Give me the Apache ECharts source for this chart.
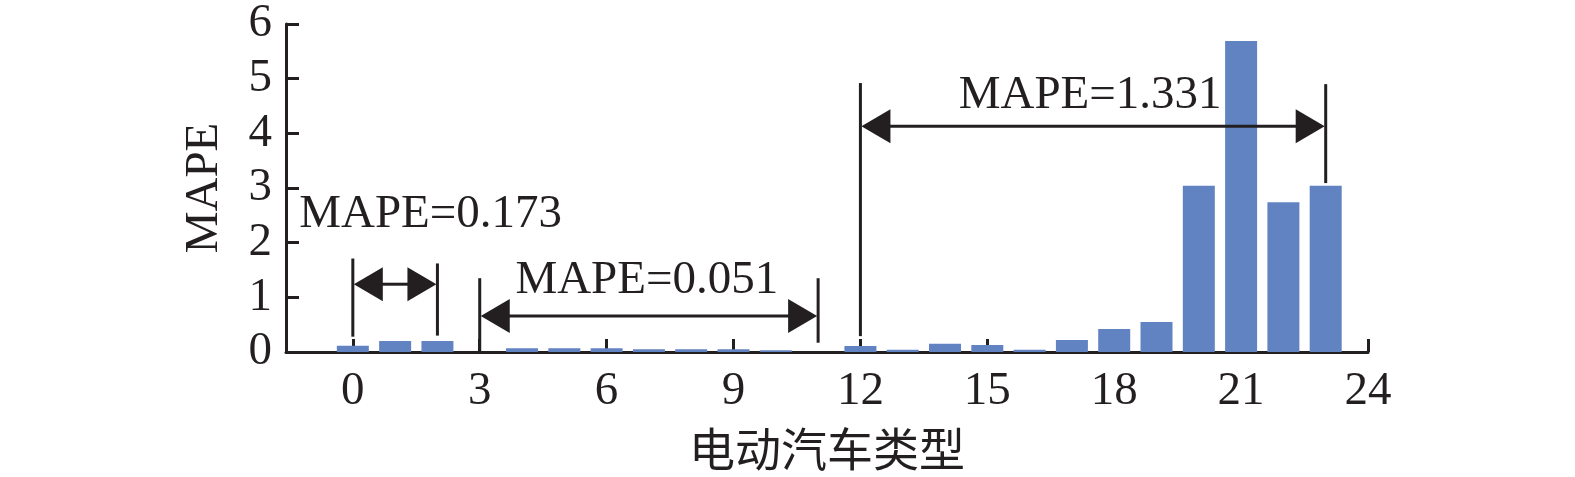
<!DOCTYPE html>
<html>
<head>
<meta charset="utf-8">
<script src="https://cdn.jsdelivr.net/npm/echarts@6/dist/echarts.min.js"></script>
<style>
html,body{margin:0;padding:0;background:#fff;}
#chart{width:1575px;height:477px;}
</style>
</head>
<body>
<div id="chart"></div>
<script>
// ---- data ----
const vehicleTypes = [0,1,2,3,4,5,6,7,8,9,10,11,12,13,14,15,16,17,18,19,20,21,22,23];
const mapeValues   = [0.115,0.20,0.20,0,0.07,0.07,0.07,0.05,0.05,0.05,0.03,0,0.11,0.04,0.15,0.13,0.04,0.22,0.42,0.55,3.04,5.69,2.74,3.04];
const xTickValues  = [0,3,6,9,12,15,18,21,24];
const yTickValues  = [0,1,2,3,4,5,6];

// bracket annotations (data units)
const bracketFrom       = [0, 3, 12];
const bracketTo         = [2, 11, 23];
const bracketArrowLevel = [1.24, 0.66, 4.13];
const leftLineTop       = [1.71, 1.35, 4.92];
const leftLineBottom    = [0.28, 0, 0.29];
const rightLineTop      = [1.62, 1.35, 4.90];
const rightLineBottom   = [0.30, 0.17, 3.09];
const bracketLabels     = ['MAPE=0.173', 'MAPE=0.051', 'MAPE=1.331'];
const labelX            = [1.84, 6.95, 17.43];
const labelY            = [2.51, 1.30, 4.69];

// ---- chart ----
const INK = '#231f20';
const SERIF = '"Liberation Serif", "Times New Roman", serif';
const chart = echarts.init(document.getElementById('chart'), null, {renderer:'canvas'});

function renderBracket(params, api) {
  const i = params.dataIndex;
  const a = api.coord([bracketFrom[i], bracketArrowLevel[i]]);
  const b = api.coord([bracketTo[i], bracketArrowLevel[i]]);
  const lt = api.coord([bracketFrom[i], leftLineTop[i]]);
  const lb = api.coord([bracketFrom[i], leftLineBottom[i]]);
  const rt = api.coord([bracketTo[i], rightLineTop[i]]);
  const rb = api.coord([bracketTo[i], rightLineBottom[i]]);
  const lp = api.coord([labelX[i], labelY[i]]);
  const L = 30, H = 17;
  const lineStyle = {stroke: INK, lineWidth: 3};
  return {
    type: 'group',
    children: [
      {type:'line', shape:{x1:lt[0], y1:lt[1], x2:lb[0], y2:lb[1]}, style:lineStyle},
      {type:'line', shape:{x1:rt[0], y1:rt[1], x2:rb[0], y2:rb[1]}, style:lineStyle},
      {type:'line', shape:{x1:a[0]+L-2, y1:a[1], x2:b[0]-L+2, y2:b[1]}, style:lineStyle},
      {type:'polygon', shape:{points:[[a[0]+1, a[1]], [a[0]+L, a[1]-H], [a[0]+L, a[1]+H]]}, style:{fill:INK}},
      {type:'polygon', shape:{points:[[b[0]-1, b[1]], [b[0]-L, b[1]-H], [b[0]-L, b[1]+H]]}, style:{fill:INK}},
      {type:'text', x: lp[0], y: lp[1], style:{text: bracketLabels[i], fill: INK, font: '47px ' + SERIF, align:'center', verticalAlign:'middle'}}
    ]
  };
}

const option = {
  backgroundColor: '#ffffff',
  animation: false,
  grid: {left: 286, right: 207, top: 24, bottom: 125, containLabel: false},
  xAxis: {
    type: 'value',
    min: -1.58,
    max: 24,
    name: '电动汽车类型',
    nameLocation: 'middle',
    nameGap: 74,
    nameTextStyle: {color: INK, fontSize: 46, fontFamily: '"Noto Sans CJK SC", sans-serif'},
    axisLine: {show: true, onZero: false, lineStyle: {color: INK, width: 3}},
    axisTick: {show: true, inside: true, length: 13, lineStyle: {color: INK, width: 3}, customValues: xTickValues},
    axisLabel: {color: INK, fontSize: 47, fontFamily: SERIF, margin: 16, customValues: xTickValues},
    splitLine: {show: false}
  },
  yAxis: {
    type: 'value',
    min: 0,
    max: 6,
    interval: 1,
    name: 'MAPE',
    nameLocation: 'middle',
    nameGap: 58,
    nameRotate: 90,
    nameTextStyle: {color: INK, fontSize: 47, fontFamily: SERIF},
    axisLine: {show: true, onZero: false, lineStyle: {color: INK, width: 3}},
    axisTick: {show: true, inside: true, length: 13, lineStyle: {color: INK, width: 3}, customValues: yTickValues},
    axisLabel: {color: INK, fontSize: 47, fontFamily: SERIF, margin: 14, customValues: yTickValues},
    splitLine: {show: false}
  },
  series: [
    {
      type: 'bar',
      data: vehicleTypes.map((x, i) => [x, mapeValues[i]]),
      barWidth: 32,
      itemStyle: {color: '#6283c2'},
      z: 1
    },
    {
      type: 'custom',
      renderItem: renderBracket,
      data: bracketFrom.map((_, i) => i),
      clip: false,
      z: 5,
      silent: true
    }
  ]
};
chart.setOption(option);
</script>
</body>
</html>
